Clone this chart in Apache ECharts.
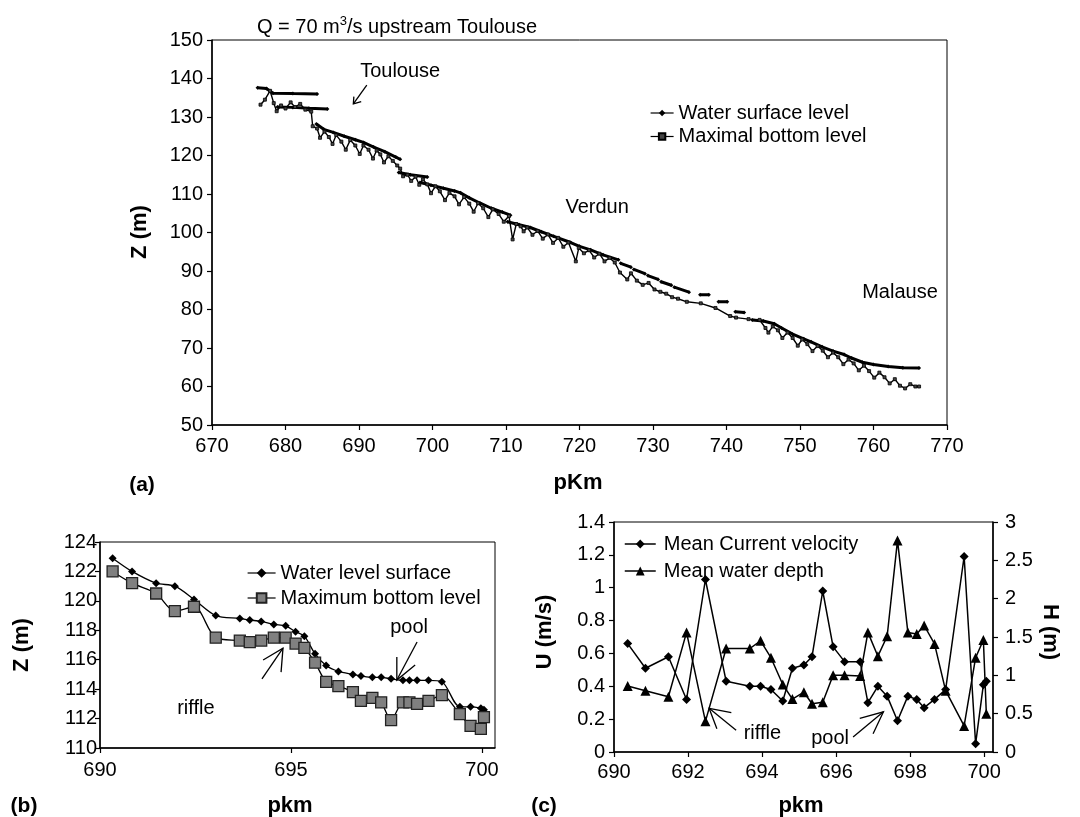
<!DOCTYPE html>
<html>
<head>
<meta charset="utf-8">
<script src="https://cdn.jsdelivr.net/npm/echarts@6/dist/echarts.min.js"></script>
<style>
html,body{margin:0;padding:0;background:#fff;}
#chart{width:1080px;height:817px;}
</style>
</head>
<body>
<div id="chart"></div>
<script>
// ---------- DATA ----------
// Panel (a): longitudinal profile, pairs [pKm, Z]; null = gap in the series
const aWaterSurface = [
  [676.2,137.6],[677.4,137.4],[678.3,136.2],[681.0,136.1],[684.3,136.0], null,
  [678.9,132.6],[681.0,132.5],[683.2,132.3],[685.7,132.1], null,
  [684.2,128.2],[685.2,126.8],[686.5,126.0],[688.0,125.0],[689.5,124.1],[690.6,123.4],[692.0,122.2],[693.5,121.0],[695.0,119.6],[695.6,119.0], null,
  [695.4,115.6],[697.0,115.0],[699.3,114.4], null,
  [698.3,113.0],[699.8,112.3],[701.5,111.5],[703.0,110.8],[703.8,110.3],[705.0,109.0],[706.5,107.6],[708.0,106.3],[709.5,105.3],[710.6,104.5], null,
  [710.2,102.8],[711.8,102.0],[713.3,101.3],[714.8,100.2],[716.5,99.0],[718.8,97.4],[720.0,96.4],[721.5,95.5],[723.2,94.2],[725.3,92.9], null,
  [725.6,92.0],[727.0,91.0], null,
  [727.4,90.4],[728.9,89.3], null,
  [729.3,88.8],[730.7,87.8], null,
  [731.1,87.2],[732.5,86.3], null,
  [732.9,85.8],[734.9,84.5], null,
  [736.4,83.8],[737.6,83.8], null,
  [738.9,82.0],[740.1,82.0], null,
  [741.2,79.4],[742.4,79.2], null,
  [743.5,77.3],[745.0,77.0],[746.5,76.3],[747.5,75.2],[749.0,73.6],[750.5,72.4],[751.5,71.6],[753.0,70.3],[754.5,69.2],[756.0,68.3],[757.0,67.4],[758.5,66.3],[760.0,65.7],[762.0,65.2],[764.0,64.9],[766.2,64.8]
];
const aBottomLevel = [
  [676.6,133.2],[677.2,134.5],[677.9,136.8],[678.4,133.6],[678.8,131.5],[679.4,133.0],[680.0,132.2],[680.7,133.8],[681.3,132.6],[682.0,133.4],[682.7,131.9],[683.5,131.4],
  [683.7,127.6],[684.3,127.0],[684.7,124.6],[685.3,126.2],[685.9,124.8],[686.4,123.0],[686.9,125.3],[687.6,123.6],[688.2,121.5],[688.8,124.0],[689.5,122.6],[690.1,120.4],
  [690.6,122.6],[691.3,121.5],[691.9,119.2],[692.4,121.3],[692.9,120.3],[693.4,118.2],[694.0,119.8],[694.6,118.6],[695.2,117.4],[695.6,116.6],[696.0,114.6],[696.6,115.0],
  [697.1,113.4],[697.7,114.5],[698.2,112.4],[698.7,113.8],[699.3,112.5],[699.8,110.2],[700.4,112.0],[701.0,110.7],[701.7,108.4],[702.3,110.3],[703.0,109.4],[703.6,107.3],
  [704.3,109.2],[705.0,107.5],[705.6,105.4],[706.2,107.6],[706.9,106.3],[707.6,104.0],[708.2,106.0],[709.0,104.8],[709.7,102.8],[710.4,104.3],[710.9,98.2],[711.4,102.2],
  [712.0,101.6],[712.4,100.3],[712.9,101.3],[713.6,99.4],[714.3,100.4],[715.0,98.4],[715.7,99.5],[716.4,97.3],[717.1,98.6],[717.8,96.3],[718.5,97.4],[719.5,92.5],
  [719.9,96.0],[720.6,94.6],[721.3,95.4],[722.0,93.5],[722.7,94.5],[723.4,92.5],[724.1,93.4],[724.8,92.2],[725.5,89.6],[726.5,87.8],[727.0,89.4],[727.8,87.5],
  [728.6,86.4],[729.4,86.9],[730.2,85.2],[731.0,84.6],[731.8,84.1],[732.6,83.2],[733.4,82.8],[734.6,82.0],[736.5,81.6],[738.5,80.4],[740.5,78.3],[741.3,77.9],
  [743.0,77.5],[744.5,77.3],[745.3,75.2],[745.7,74.0],[746.3,75.6],[747.0,74.6],[747.6,72.6],[748.3,74.0],[749.0,72.6],[749.7,70.6],[750.3,72.2],[751.0,71.0],
  [751.7,69.2],[752.4,70.5],[753.1,69.3],[753.8,67.6],[754.5,68.8],[755.2,67.6],[755.9,65.8],[756.6,67.0],[757.3,66.0],[758.0,64.2],[758.7,65.4],[759.4,64.0],
  [760.1,62.3],[760.8,63.6],[761.5,62.4],[762.2,60.8],[762.9,61.9],[763.6,60.2],[764.3,59.5],[765.0,60.6],[765.7,60.0],[766.2,60.0]
];

// Panel (b): detail 690-700
const bKm = [690.33,690.84,691.47,691.96,692.46,693.03,693.66,693.92,694.22,694.55,694.86,695.12,695.35,695.63,695.92,696.24,696.62,696.83,697.13,697.36,697.62,697.93,698.10,698.30,698.60,698.95,699.42,699.70,699.97,700.05];
const bWaterLevel = [122.9,122.0,121.2,121.0,120.1,119.0,118.8,118.7,118.6,118.4,118.3,117.9,117.6,116.4,115.6,115.2,115.0,114.9,114.8,114.8,114.7,114.6,114.6,114.6,114.6,114.5,112.8,112.8,112.7,112.6];
const bBottomLevel = [122.0,121.2,120.5,119.3,119.6,117.5,117.3,117.2,117.3,117.5,117.5,117.1,116.8,115.8,114.5,114.2,113.8,113.2,113.4,113.1,111.9,113.1,113.1,113.0,113.2,113.6,112.3,111.5,111.3,112.1];

// Panel (c): velocity and depth
const cKm = [690.37,690.85,691.47,691.96,692.47,693.03,693.67,693.96,694.24,694.56,694.82,695.13,695.35,695.64,695.92,696.23,696.65,696.86,697.13,697.38,697.66,697.94,698.18,698.38,698.66,698.96,699.46,699.77,699.98,700.06];
const cVelocity = [0.66,0.51,0.58,0.32,1.05,0.43,0.40,0.40,0.38,0.31,0.51,0.53,0.58,0.98,0.64,0.55,0.55,0.30,0.40,0.34,0.19,0.34,0.32,0.27,0.32,0.38,1.19,0.05,0.41,0.43];
const cDepth = [0.86,0.80,0.72,1.56,0.40,1.35,1.35,1.45,1.23,0.88,0.69,0.78,0.63,0.65,1.00,1.00,0.99,1.56,1.25,1.51,2.76,1.56,1.54,1.65,1.41,0.80,0.34,1.23,1.46,0.50];

// Tick labels
const bXTicks = [690,695,700];
const cXTicks = [690,692,694,696,698,700];

// Annotations (data coordinates)
const notesA = [{text:'Toulouse', at:[695.6,141.7]},{text:'Verdun', at:[722.4,106.4]},{text:'Malause', at:[763.6,84.5]}];
const arrowsA = [{tail:[691.06,138.3], tip:[689.23,133.4], arms:[[689.3,135.3],[690.3,134.0]]}];
const notesB = [{text:'pool', at:[698.09,118.22]},{text:'riffle', at:[692.51,112.71]}];
const arrowsB = [
  {tail:[698.30,117.20], tip:[697.77,114.62], arms:[[697.77,116.18],[698.25,115.64]]},
  {tail:[694.24,114.69], tip:[694.79,116.79], arms:[[694.27,115.98],[694.74,115.16]]}
];
const notesC = [{text:'riffle', at:[694.01,0.111]},{text:'pool', at:[695.84,0.080]}];
const arrowsC = [
  {tail:[693.30,0.132], tip:[692.57,0.266], arms:[[693.17,0.239],[692.78,0.142]]},
  {tail:[696.46,0.091], tip:[697.28,0.245], arms:[[696.64,0.204],[697.0,0.111]]}
];

// ---------- CHART ----------
const FONT = '"Liberation Sans", Arial, Helvetica, sans-serif';
const chart = echarts.init(document.getElementById('chart'), null, {renderer:'canvas'});

function axis(extra, labelMargin) {
  return Object.assign({
    type:'value',
    axisLine:{show:true, onZero:false, lineStyle:{color:'#000', width:1.5}},
    axisTick:{show:true, inside:false, length:5, lineStyle:{color:'#000', width:1.2}},
    axisLabel:{color:'#000', fontSize:20, fontFamily:FONT, margin:labelMargin},
    splitLine:{show:false},
    minorTick:{show:false}
  }, extra);
}
const gap = p => p === null ? ['-','-'] : p;
const zip = (xs, ys) => xs.map((x,i) => [x, ys[i]]);

const legendText = {color:'#000', fontSize:20, fontFamily:FONT, lineHeight:20};

const option = {
  animation:false,
  backgroundColor:'#fff',
  textStyle:{fontFamily:FONT},
  grid:[
    {left:212, top:40, width:735, height:385, show:true, borderColor:'#000', borderWidth:1, containLabel:false},
    {left:100, top:542, width:395, height:206, show:true, borderColor:'#000', borderWidth:1, containLabel:false},
    {left:614, top:522, width:379, height:230, show:true, borderColor:'#000', borderWidth:1, containLabel:false}
  ],
  xAxis:[
    axis({gridIndex:0, min:670, max:770, interval:10}, 11),
    axis({gridIndex:1, min:690, max:700.34,
      axisTick:{show:true, length:5, lineStyle:{color:'#000', width:1.2}, customValues:bXTicks},
      axisLabel:{color:'#000', fontSize:20, fontFamily:FONT, margin:12, customValues:bXTicks}}, 12),
    axis({gridIndex:2, min:690, max:700.24,
      axisTick:{show:true, length:5, lineStyle:{color:'#000', width:1.2}, customValues:cXTicks},
      axisLabel:{color:'#000', fontSize:20, fontFamily:FONT, margin:10, customValues:cXTicks}}, 10)
  ],
  yAxis:[
    axis({gridIndex:0, min:50, max:150, interval:10}, 9),
    axis({gridIndex:1, min:110, max:124, interval:2}, 3),
    axis({gridIndex:2, min:0, max:1.4, interval:0.2}, 9),
    axis({gridIndex:2, min:0, max:3, interval:0.5, position:'right'}, 12)
  ],
  legend:[
    {data:['Water surface level','Maximal bottom level'], orient:'vertical', left:645, top:98,
     itemWidth:23, itemHeight:8, itemGap:3.5, textStyle:legendText, selectedMode:false,
     lineStyle:{width:1.2, color:'#000'}},
    {data:['Water level surface','Maximum bottom level'], orient:'vertical', left:242, top:558,
     itemWidth:28, itemHeight:12, itemGap:5, textStyle:legendText, selectedMode:false,
     lineStyle:{width:1.2, color:'#000'}},
    {data:['Mean Current velocity','Mean water depth'], orient:'vertical', left:619, top:529,
     itemWidth:31, itemHeight:11, itemGap:7, textStyle:Object.assign({padding:[0,0,0,3]}, legendText), selectedMode:false,
     lineStyle:{width:1.5, color:'#000'}}
  ],
  series:[
    {name:'Water surface level', type:'line', xAxisIndex:0, yAxisIndex:0,
     data:aWaterSurface.map(gap), connectNulls:false,
     symbol:'diamond', symbolSize:4, showSymbol:true,
     lineStyle:{color:'#000', width:3}, itemStyle:{color:'#000'}},
    {name:'Maximal bottom level', type:'line', xAxisIndex:0, yAxisIndex:0,
     data:aBottomLevel,
     symbol:'rect', symbolSize:3, showSymbol:true,
     lineStyle:{color:'#000', width:1.4}, itemStyle:{color:'#444', borderColor:'#000', borderWidth:0.8}},

    {name:'Water level surface', type:'line', xAxisIndex:1, yAxisIndex:1,
     data:zip(bKm, bWaterLevel), smooth:0.3,
     symbol:'diamond', symbolSize:8,
     lineStyle:{color:'#000', width:1.3}, itemStyle:{color:'#000'}},
    {name:'Maximum bottom level', type:'line', xAxisIndex:1, yAxisIndex:1,
     data:zip(bKm, bBottomLevel), smooth:0.3,
     symbol:'rect', symbolSize:11,
     lineStyle:{color:'#000', width:1.3}, itemStyle:{color:'#808080', borderColor:'#222', borderWidth:1.3}},

    {name:'Mean Current velocity', type:'line', xAxisIndex:2, yAxisIndex:2,
     data:zip(cKm, cVelocity),
     symbol:'diamond', symbolSize:9,
     lineStyle:{color:'#000', width:1.5}, itemStyle:{color:'#000'}},
    {name:'Mean water depth', type:'line', xAxisIndex:2, yAxisIndex:3,
     data:zip(cKm, cDepth),
     symbol:'triangle', symbolSize:10,
     lineStyle:{color:'#000', width:1.5}, itemStyle:{color:'#000'}}
  ]
};
chart.setOption(option);

// ---------- ANNOTATIONS ----------
function toPx(xi, yi, p) { return chart.convertToPixel({xAxisIndex:xi, yAxisIndex:yi}, p); }
const graphics = [];
function addText(x, y, text, opts) {
  graphics.push(Object.assign({type:'text', x:x, y:y, silent:true,
    style:Object.assign({text:text, fill:'#000', font:'20px ' + FONT, align:'center', verticalAlign:'middle'}, opts && opts.style || {})},
    opts && opts.rotation !== undefined ? {rotation:opts.rotation} : {}));
}
function addNotes(xi, yi, notes) {
  notes.forEach(n => { const p = toPx(xi, yi, n.at); addText(p[0], p[1], n.text); });
}
function addArrows(xi, yi, arrows) {
  arrows.forEach(a => {
    const t = toPx(xi, yi, a.tail), h = toPx(xi, yi, a.tip);
    const m1 = toPx(xi, yi, a.arms[0]), m2 = toPx(xi, yi, a.arms[1]);
    graphics.push({type:'polyline', silent:true, shape:{points:[t, h]}, style:{stroke:'#000', lineWidth:1.3, fill:null}});
    graphics.push({type:'polyline', silent:true, shape:{points:[m1, h, m2]}, style:{stroke:'#000', lineWidth:1.3, fill:null}});
  });
}
addNotes(0, 0, notesA); addArrows(0, 0, arrowsA);
addNotes(1, 1, notesB); addArrows(1, 1, arrowsB);
addNotes(2, 2, notesC); addArrows(2, 2, arrowsC);

// Titles and axis names
graphics.push({type:'text', x:397, y:26, silent:true,
  style:{text:'{n|Q = 70 m}{s|3}{n|/s upstream Toulouse}', align:'center', verticalAlign:'middle', fill:'#000',
    rich:{n:{fontSize:20, fontFamily:FONT, fill:'#000', lineHeight:22, verticalAlign:'bottom'},
          s:{fontSize:13, fontFamily:FONT, fill:'#000', lineHeight:22, verticalAlign:'top'}}}});
const bold = {style:{font:'bold 21px ' + FONT}};
addText(142, 485, '(a)', bold);
addText(578, 483, 'pKm', {style:{font:'bold 22px ' + FONT}});
addText(140, 232, 'Z (m)', {style:{font:'bold 22px ' + FONT}, rotation:Math.PI/2});
addText(24, 806, '(b)', bold);
addText(290, 806, 'pkm', {style:{font:'bold 22px ' + FONT}});
addText(22, 645, 'Z (m)', {style:{font:'bold 22px ' + FONT}, rotation:Math.PI/2});
addText(544, 806, '(c)', bold);
addText(801, 806, 'pkm', {style:{font:'bold 22px ' + FONT}});
addText(545, 632, 'U (m/s)', {style:{font:'bold 22px ' + FONT}, rotation:Math.PI/2});
addText(1050, 632, 'H (m)', {style:{font:'bold 22px ' + FONT}, rotation:-Math.PI/2});

chart.setOption({graphic:graphics});
</script>
</body>
</html>
